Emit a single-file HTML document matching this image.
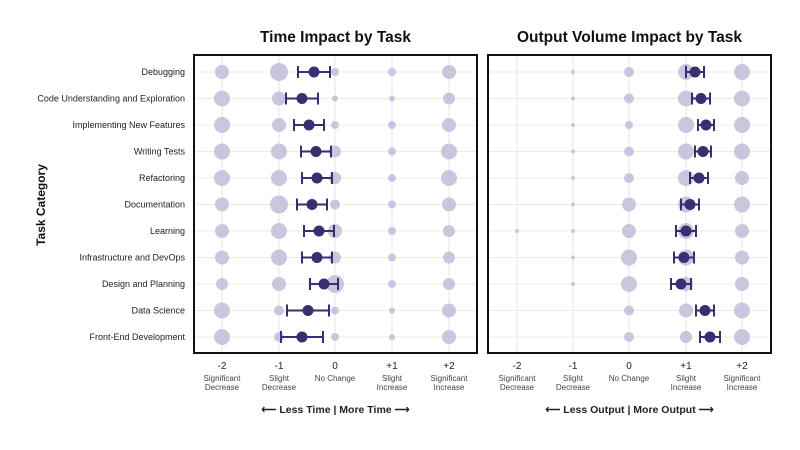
<!DOCTYPE html>
<html><head><meta charset="utf-8"><style>
body{margin:0;background:#fff;}
svg{display:block;font-family:"Liberation Sans",sans-serif;}
</style></head><body>
<svg id="s" width="800" height="450" xmlns="http://www.w3.org/2000/svg"></svg>
<script>
const s=document.getElementById('s');
let h='';
const rows=["Debugging","Code Understanding and Exploration","Implementing New Features","Writing Tests","Refactoring","Documentation","Learning","Infrastructure and DevOps","Design and Planning","Data Science","Front-End Development"];
const ys=rows.map((r,i)=>72+i*26.5);
const L={x0:194,x1:477,cols:[222,279,335,392,449],
 r:[[7,9,4,4,7],[8,7,3,3,6],[8,7,4,4,7],[8,8,6,4,8],[8,8,6,4,8],[7,9,5,4,7],[7,8,7,4,6],[7,8,6,4,6],[6,7,9,4,6],[8,5,4,3,7],[8,5,4,3,7]],
 m:[314,302,309,316,317,312,319,317,324,308,302],e:[16,16,15,15,15,15,15,15,14,21,21],title:"Time Impact by Task",bot:"⟵  Less Time  |  More Time  ⟶"};
const R={x0:488,x1:771,cols:[517,573,629,686,742],
 r:[[0,2,5,8,8],[0,2,5,8,8],[0,2,4,8,8],[0,2,5,8,8],[0,2,5,8,7],[0,2,7,8,8],[2,2,7,8,7],[0,2,8,8,7],[0,2,8,7,7],[0,0,5,7,8],[0,0,5,6,8]],
 m:[695,701,706,703,699,690,686,684,681,705,710],e:[9,9,8,8,9,9,10,10,10,9,10],title:"Output Volume Impact by Task",bot:"⟵  Less Output  |  More Output  ⟶"};
const ticks=[["-2","Significant","Decrease"],["-1","Slight","Decrease"],["0","No Change",""],["+1","Slight","Increase"],["+2","Significant","Increase"]];
for(const P of [L,R]){
 const cx=(P.x0+P.x1)/2;
 h+=`<text x="${cx}" y="42" text-anchor="middle" font-size="15.5" font-weight="bold" fill="#111">${P.title}</text>`;
 for(const x of P.cols) h+=`<line x1="${x}" y1="55" x2="${x}" y2="353" stroke="#e4e4e8" stroke-width="1"/>`;
 for(const y of ys) h+=`<line x1="${P.x0}" y1="${y}" x2="${P.x1}" y2="${y}" stroke="#ecebdc" stroke-width="1"/>`;
 ys.forEach((y,i)=>{P.r[i].forEach((r,j)=>{if(r)h+=`<circle cx="${P.cols[j]}" cy="${y}" r="${r}" fill="#c3c1da" opacity="0.9"/>`;});
  const m=P.m[i],e=P.e[i];
  h+=`<g stroke="#35306f" stroke-width="2"><line x1="${m-e}" y1="${y}" x2="${m+e}" y2="${y}"/><line x1="${m-e}" y1="${y-6}" x2="${m-e}" y2="${y+6}"/><line x1="${m+e}" y1="${y-6}" x2="${m+e}" y2="${y+6}"/></g><circle cx="${m}" cy="${y}" r="5.5" fill="#35306f"/>`;});
 h+=`<rect x="${P.x0}" y="55" width="${P.x1-P.x0}" height="298" fill="none" stroke="#111" stroke-width="2"/>`;
 P.cols.forEach((x,j)=>{const t=ticks[j];h+=`<text x="${x}" y="369" text-anchor="middle" font-size="10" fill="#222">${t[0]}</text><text x="${x}" y="381" text-anchor="middle" font-size="8" fill="#444">${t[1]}</text><text x="${x}" y="390" text-anchor="middle" font-size="8" fill="#444">${t[2]}</text>`;});
 h+=`<text x="${cx}" y="413" text-anchor="middle" font-size="10.5" font-weight="bold" fill="#222">${P.bot}</text>`;
}
rows.forEach((r,i)=>{h+=`<text x="185" y="${ys[i]+3}" text-anchor="end" font-size="9" fill="#222">${r}</text>`;});
h+=`<text transform="translate(45,205) rotate(-90)" text-anchor="middle" font-size="12" font-weight="bold" fill="#111">Task Category</text>`;
s.innerHTML=h;
</script>
</body></html>
